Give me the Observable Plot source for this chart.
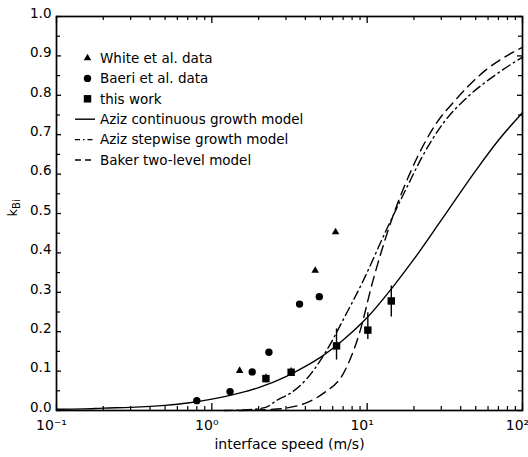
<!DOCTYPE html>
<html><head><meta charset="utf-8">
<script src="https://cdn.jsdelivr.net/npm/d3@7"></script>
<script src="https://cdn.jsdelivr.net/npm/@observablehq/plot@0.6"></script>
<style>
html,body{margin:0;padding:0;background:#fff;}
#chart{width:528px;height:457px;}
</style></head><body><div id="chart"></div>
<script>
// ---------- data ----------
// White et al. data (triangles)
const whiteSpeed = [1.51, 4.63, 6.26];
const whiteK     = [0.101, 0.355, 0.453];
// Baeri et al. data (circles)
const baeriSpeed = [0.80, 1.31, 1.82, 2.33, 3.67, 4.92];
const baeriK     = [0.025, 0.048, 0.098, 0.148, 0.270, 0.289];
// this work (squares with error bars)
const workSpeed = [2.23, 3.24, 6.35, 10.1, 14.3];
const workK     = [0.081, 0.097, 0.164, 0.204, 0.278];
const workLo    = [0.070, 0.086, 0.128, 0.180, 0.237];
const workHi    = [0.092, 0.108, 0.207, 0.248, 0.316];
// Aziz continuous growth model (solid)
const contSpeed = [0.1, 0.15, 0.2, 0.3, 0.5, 0.7, 1, 1.5, 2, 3, 4, 5, 7, 10, 15, 20, 30, 50, 70, 100];
const contK     = [0.003, 0.004, 0.006, 0.008, 0.013, 0.019, 0.029, 0.044, 0.058, 0.086, 0.112, 0.135, 0.179, 0.236, 0.319, 0.384, 0.483, 0.609, 0.686, 0.756];
// Aziz stepwise growth model (dash-dot)
const stepSpeed = [1.2, 1.7, 2.22, 2.65, 3.21, 4.01, 5.40, 7.26, 9.34, 13.1, 18.2, 22.4, 31.0, 45.0, 67.1, 100];
const stepK     = [0.0, 0.002, 0.008, 0.027, 0.044, 0.077, 0.148, 0.242, 0.326, 0.453, 0.570, 0.641, 0.730, 0.798, 0.852, 0.897];
// Baker two-level model (dashed)
const bakerSpeed = [1.5, 2.2, 2.98, 4.20, 5.24, 7.05, 8.93, 10.8, 14.2, 19.0, 28.0, 35.5, 45.0, 57.9, 73.3, 100];
const bakerK     = [0.0, 0.002, 0.006, 0.022, 0.044, 0.095, 0.197, 0.324, 0.478, 0.605, 0.730, 0.780, 0.824, 0.864, 0.892, 0.922];

// axes
const xDecades = [0.1, 1, 10, 100];
const xDecadeLabels = ["10\u207B\u00B9", "10\u2070", "10\u00B9", "10\u00B2"];
const xMinorTicks = [0.2,0.3,0.4,0.5,0.6,0.7,0.8,0.9,2,3,4,5,6,7,8,9,20,30,40,50,60,70,80,90];
const yTicks = [0,0.1,0.2,0.3,0.4,0.5,0.6,0.7,0.8,0.9,1.0];
const yTickLabels = ["0.0","0.1","0.2","0.3","0.4","0.5","0.6","0.7","0.8","0.9","1.0"];
const yMinorTicks = [0.05,0.15,0.25,0.35,0.45,0.55,0.65,0.75,0.85,0.95];
const xTitle = "interface speed (m/s)";
const yTitle = "kBi";
const legendLabels = ["White et al. data","Baeri et al. data","this work","Aziz continuous growth model","Aziz stepwise growth model","Baker two-level model"];
const legendKinds = ["triangle","circle","square","solid","dashdot","dash"];

// ---------- tables ----------
const zip = (xs, ys) => xs.map((v, i) => ({v, k: ys[i]}));
const white = zip(whiteSpeed, whiteK);
const baeri = zip(baeriSpeed, baeriK);
const work = workSpeed.map((v, i) => ({v, k: workK[i], lo: workLo[i], hi: workHi[i]}));
const cont = zip(contSpeed, contK);
const step = zip(stepSpeed, stepK);
const baker = zip(bakerSpeed, bakerK);

// ---------- layout ----------
const W = 528, H = 457;
const mL = 56, mR = 6, mT = 16, mB = 47;
const innerW = W - mL - mR, innerH = H - mT - mB;
const font = "'DejaVu Sans', sans-serif";
const lw = 1.4;
const dashDot = "9,4,1.5,4";
const dashed = "10,6";

const chart = Plot.plot({
  width: W, height: H,
  marginLeft: mL, marginRight: mR, marginTop: mT, marginBottom: mB,
  style: {fontFamily: font, fontSize: "13.5px", color: "#000", background: "#fff", overflow: "visible"},
  x: {type: "log", domain: [0.1, 100]},
  y: {domain: [0, 1]},
  marks: [
    Plot.axisX({ticks: xDecades, tickSize: 0, tickPadding: 10, fontSize: 14, dx: -5,
      tickFormat: d => xDecadeLabels[xDecades.indexOf(d)], label: null}),
    Plot.axisY({ticks: yTicks, tickSize: 0, tickPadding: 5, dy: -3, fontSize: 13.5,
      tickFormat: d => yTickLabels[yTicks.indexOf(d)], label: null}),
    // inward ticks
    Plot.tickX(xDecades, {x: d => d, insetTop: innerH - 7, stroke: "#000", strokeWidth: 1.3}),
    Plot.tickX(xMinorTicks, {x: d => d, insetTop: innerH - 4, stroke: "#000", strokeWidth: 1.2}),
    Plot.tickX(xDecades, {x: d => d, insetBottom: innerH - 7, stroke: "#000", strokeWidth: 1.3}),
    Plot.tickX(xMinorTicks, {x: d => d, insetBottom: innerH - 4, stroke: "#000", strokeWidth: 1.2}),
    Plot.tickY(yTicks, {y: d => d, insetRight: innerW - 5, stroke: "#000", strokeWidth: 1.3}),
    Plot.tickY(yMinorTicks, {y: d => d, insetRight: innerW - 4, stroke: "#000", strokeWidth: 1.2}),
    Plot.tickY(yTicks, {y: d => d, insetLeft: innerW - 5, stroke: "#000", strokeWidth: 1.3}),
    Plot.tickY(yMinorTicks, {y: d => d, insetLeft: innerW - 4, stroke: "#000", strokeWidth: 1.2}),
    Plot.frame({stroke: "#000", strokeWidth: 1.7}),
    // model curves
    Plot.line(cont, {x: "v", y: "k", curve: "monotone-x", stroke: "#000", strokeWidth: lw}),
    Plot.line(step, {x: "v", y: "k", curve: "monotone-x", stroke: "#000", strokeWidth: lw, strokeDasharray: dashDot}),
    Plot.line(baker, {x: "v", y: "k", curve: "monotone-x", stroke: "#000", strokeWidth: lw, strokeDasharray: dashed}),
    // data
    Plot.ruleX(work, {x: "v", y1: "lo", y2: "hi", stroke: "#000", strokeWidth: 1.4}),
    Plot.dot(white, {x: "v", y: "k", symbol: "triangle", r: 2.8, fill: "#000", stroke: "none"}),
    Plot.dot(baeri, {x: "v", y: "k", symbol: "circle", r: 3.7, fill: "#000", stroke: "none"}),
    Plot.dot(work, {x: "v", y: "k", symbol: "square", r: 4.2, fill: "#000", stroke: "none"}),
    // titles
    Plot.text([xTitle], {frameAnchor: "bottom", dy: 38, fontSize: 14, fill: "#000"}),
    Plot.text([yTitle], {frameAnchor: "left", dx: -44, dy: 3, rotate: -90, fontSize: 13, fill: "#000"})
  ]
});
document.getElementById("chart").appendChild(chart);

const svg = d3.select(chart);
// subscript on y title
svg.selectAll("text").filter(function() { return this.textContent === yTitle; }).each(function() {
  const t = d3.select(this);
  t.text("k");
  t.append("tspan").attr("dy", "0.3em").attr("font-size", "10px").text("Bi");
});

// legend (inside plot, top-left)
const leg = svg.append("g").attr("font-family", font).attr("font-size", 13.5)
  .attr("fill", "#000").attr("text-anchor", "start");
const legX0 = 75, legX1 = 95, legSym = 87.5, legText = 100, legTop = 58, legStep = 20.4;
const symR = {triangle: 2.8, circle: 3.7, square: 4.2};
const symType = {triangle: d3.symbolTriangle, circle: d3.symbolCircle, square: d3.symbolSquare};
legendLabels.forEach((lab, i) => {
  const y = legTop + i * legStep;
  const kind = legendKinds[i];
  if (symType[kind]) {
    leg.append("path")
      .attr("d", d3.symbol(symType[kind], Math.PI * symR[kind] * symR[kind])())
      .attr("transform", `translate(${legSym},${y})`)
      .attr("fill", "#000");
  } else {
    const ln = leg.append("line").attr("x1", legX0).attr("x2", legX1).attr("y1", y).attr("y2", y)
      .attr("stroke", "#000").attr("stroke-width", lw);
    if (kind === "dashdot") ln.attr("stroke-dasharray", "5,3,1.5,3");
    if (kind === "dash") ln.attr("stroke-dasharray", "6,4");
  }
  leg.append("text").attr("x", legText).attr("y", y).attr("dy", "0.35em")
    .attr("text-anchor", "start").text(lab);
});
</script>
</body></html>
